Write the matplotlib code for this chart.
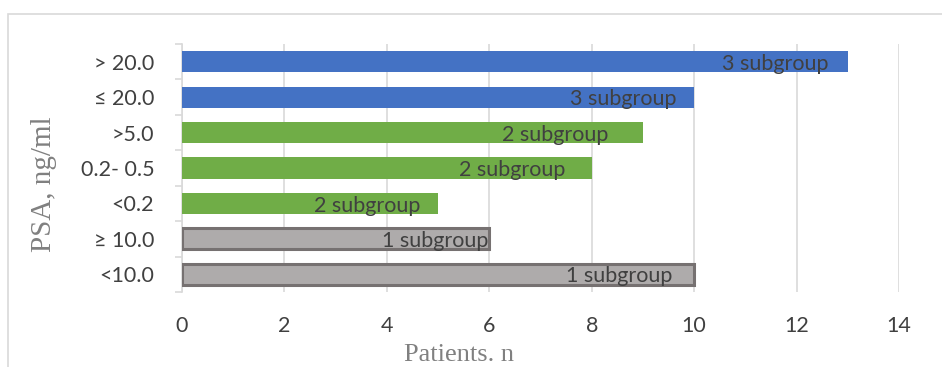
import matplotlib.pyplot as plt
from matplotlib.patches import Rectangle
from matplotlib.ticker import FixedLocator

# PSA groups, listed bottom to top
categories = ["<10.0", "\u2265 10.0", "<0.2", "0.2- 0.5", ">5.0", "\u2264 20.0", "> 20.0"]
patients = [10, 6, 5, 8, 9, 10, 13]
subgroups = [1, 1, 2, 2, 2, 3, 3]

# how far each label sits back from the bar end (in patients)
label_back = [0.43, 0.02, 0.35, 0.51, 0.68, 0.35, 0.37]

fill = {1: "#AEABAB", 2: "#70AD47", 3: "#4472C4"}
edge = {1: "#767171", 2: "#70AD47", 3: "#4472C4"}
lw = {1: 2.2, 2: 0, 3: 0}

txt = "#404040"
sans = ["Lato", "DejaVu Sans"]

fig = plt.figure(figsize=(9.42, 3.67), dpi=100)
W, H = 942, 367
# chart area frame, running off the right and bottom edges
fig.patches.append(Rectangle((8 / W, -0.2), 1, 1.2 - 14 / H, transform=fig.transFigure,
                             fill=False, edgecolor="#D9D9D9", linewidth=1.2))

ax = fig.add_axes([182 / W, 1 - 292 / H, (899 - 182) / W, (292 - 44) / H])

y = list(range(len(categories)))
for i, (v, g) in enumerate(zip(patients, subgroups)):
    ax.barh(i, v, height=0.6, color=fill[g], edgecolor=edge[g], linewidth=lw[g], zorder=3)
    ax.text(v - label_back[i], i - 0.06, f"{g} subgroup", ha="right", va="center",
            fontsize=15.5, color=txt, family=sans, zorder=4)

ax.set_xlim(0, 14)
ax.set_ylim(-0.5, len(categories) - 0.5)
ax.set_xticks(range(0, 15, 2))
ax.set_yticks(y)
ax.set_yticklabels(categories)
ax.yaxis.set_minor_locator(FixedLocator([i - 0.5 for i in range(len(categories) + 1)]))

ax.grid(axis="x", color="#D9D9D9", linewidth=1.2, zorder=0)
for s in ["top", "right", "bottom"]:
    ax.spines[s].set_visible(False)
ax.spines["left"].set_color("#D9D9D9")
ax.spines["left"].set_linewidth(1.2)

ax.tick_params(axis="x", length=0, pad=17, labelsize=15.5, labelcolor=txt)
ax.tick_params(axis="y", which="major", length=0, pad=20, labelsize=15.5, labelcolor=txt)
ax.tick_params(axis="y", which="minor", length=5, width=1.2, color="#D9D9D9")
for lab in ax.get_xticklabels() + ax.get_yticklabels():
    lab.set_family(sans)

fig.text(459 / W, 1 - 361 / H, "Patients. n", ha="center", va="baseline",
         fontsize=19, color="#808080", family="Liberation Serif")
fig.text(44 / W, 1 - 184 / H, "PSA, ng/ml", ha="center", va="center", rotation=90,
         fontsize=21, color="#808080", family="Liberation Serif")

fig.savefig("out.png", dpi=100)
